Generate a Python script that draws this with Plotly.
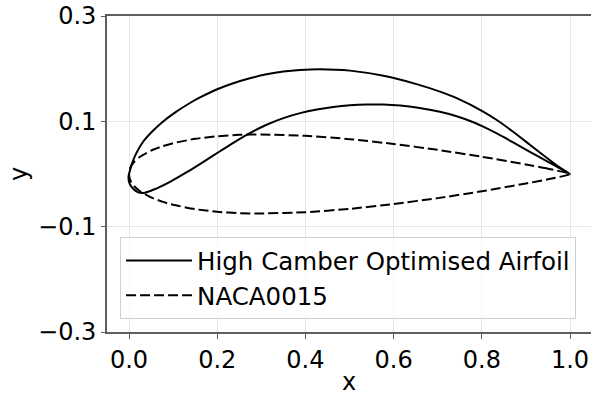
import plotly.graph_objects as go

# High camber optimised airfoil: upper surface from trailing edge to leading edge
hc_upper_x = [1.0, 0.977, 0.947, 0.909, 0.871, 0.834, 0.802, 0.743, 0.705, 0.652, 0.577, 0.501,
              0.433, 0.388, 0.350, 0.312, 0.274, 0.2365, 0.200, 0.161, 0.142, 0.104, 0.074,
              0.0515, 0.0324, 0.0175, 0.0075, 0.0016, -0.001]
hc_upper_y = [0.0, 0.0123, 0.0309, 0.0556, 0.0803, 0.1025, 0.1191, 0.1439, 0.1564, 0.1707, 0.1864, 0.1963,
              0.1990, 0.1976, 0.1946, 0.1893, 0.1817, 0.1723, 0.1610, 0.1454, 0.1367, 0.1166, 0.0974,
              0.0798, 0.0617, 0.0410, 0.0215, 0.0050, -0.004]
# lower surface from leading edge back to trailing edge
hc_lower_x = [0.0, 0.003, 0.0084, 0.021, 0.036, 0.055, 0.093, 0.131, 0.168, 0.2063, 0.2365, 0.274,
              0.312, 0.350, 0.388, 0.426, 0.463, 0.501, 0.539, 0.577, 0.615, 0.652, 0.705, 0.743,
              0.781, 0.802, 0.834, 0.871, 0.909, 0.947, 0.977, 1.0]
hc_lower_y = [-0.0146, -0.021, -0.027, -0.035, -0.0355, -0.030, -0.0148, 0.0034, 0.0227, 0.0432, 0.0592, 0.0776,
              0.0935, 0.1061, 0.1156, 0.1224, 0.1272, 0.1305, 0.1320, 0.1318, 0.1299, 0.1264, 0.1180, 0.1096,
              0.0982, 0.0904, 0.0770, 0.0600, 0.0420, 0.0245, 0.0108, 0.0]

# NACA0015
naca_upper_x = [1.0, 0.95, 0.9, 0.8, 0.7, 0.6, 0.5, 0.4, 0.3, 0.25, 0.2, 0.15, 0.1, 0.075, 0.05,
                0.025, 0.0125, 0.005, 0.002, 0.0]
naca_upper_y = [0.0, 0.0101, 0.0181, 0.0328, 0.0458, 0.0570, 0.0662, 0.0725, 0.0750, 0.0743, 0.0717,
                0.0668, 0.0585, 0.0525, 0.0444, 0.0327, 0.0237, 0.0153, 0.0098, 0.0]
naca_lower_x = [0.002, 0.005, 0.0125, 0.025, 0.05, 0.075, 0.1, 0.15, 0.2, 0.25, 0.3, 0.4, 0.5, 0.6,
                0.7, 0.8, 0.9, 0.95, 1.0]
naca_lower_y = [-0.0098, -0.0153, -0.0237, -0.0327, -0.0444, -0.0525, -0.0585, -0.0668, -0.0717,
                -0.0743, -0.0750, -0.0725, -0.0662, -0.0570, -0.0458, -0.0328, -0.0181, -0.0101, 0.0]

x_ticks = [0.0, 0.2, 0.4, 0.6, 0.8, 1.0]
x_tick_labels = ["0.0", "0.2", "0.4", "0.6", "0.8", "1.0"]
y_ticks = [-0.3, -0.1, 0.1, 0.3]
y_tick_labels = ["\u22120.3", "\u22120.1", "0.1", "0.3"]

FONT = "DejaVu Sans"
SPINE = "#5f5f5f"
GRID = "#e6e6e6"

fig = go.Figure()
fig.add_trace(go.Scatter(
    x=hc_upper_x + hc_lower_x, y=hc_upper_y + hc_lower_y,
    mode="lines", name="High Camber Optimised Airfoil",
    line=dict(color="black", width=2, shape="spline", smoothing=0.5),
))
fig.add_trace(go.Scatter(
    x=naca_upper_x + naca_lower_x, y=naca_upper_y + naca_lower_y,
    mode="lines", name="NACA0015",
    line=dict(color="black", width=2, dash="10px,4px", shape="spline", smoothing=0.5),
))

fig.update_layout(
    width=591, height=396,
    margin=dict(l=107, r=0, t=16, b=64),
    paper_bgcolor="white", plot_bgcolor="white",
    font=dict(family=FONT, size=24, color="black"),
    showlegend=True,
    legend=dict(
        x=0.027, y=0.041, xanchor="left", yanchor="bottom",
        bgcolor="rgba(255,255,255,0.8)", bordercolor="#d0d0d0", borderwidth=1,
        font=dict(family=FONT, size=24.5, color="black"),
        itemwidth=66,
    ),
    xaxis=dict(
        range=[-0.0499, 1.0476], tickvals=x_ticks, ticktext=x_tick_labels,
        showgrid=True, gridcolor=GRID, gridwidth=1, zeroline=False,
        showline=True, linecolor=SPINE, linewidth=1.6, mirror=True,
        ticks="outside", ticklen=5, tickwidth=1.3, tickcolor=SPINE,
        tickfont=dict(family=FONT, size=24, color="black"),
        title=dict(text="x", font=dict(family=FONT, size=24, color="black"), standoff=6),
    ),
    yaxis=dict(
        range=[-0.3, 0.3], tickvals=y_ticks, ticktext=y_tick_labels,
        showgrid=True, gridcolor=GRID, gridwidth=1, zeroline=False,
        showline=True, linecolor=SPINE, linewidth=1.6, mirror=False,
        ticks="outside", ticklen=4, tickwidth=1.3, tickcolor=SPINE,
        tickfont=dict(family=FONT, size=24, color="black"),
        title=dict(text="y", font=dict(family=FONT, size=24, color="black"), standoff=4),
    ),
)

fig.write_html("out.html")
